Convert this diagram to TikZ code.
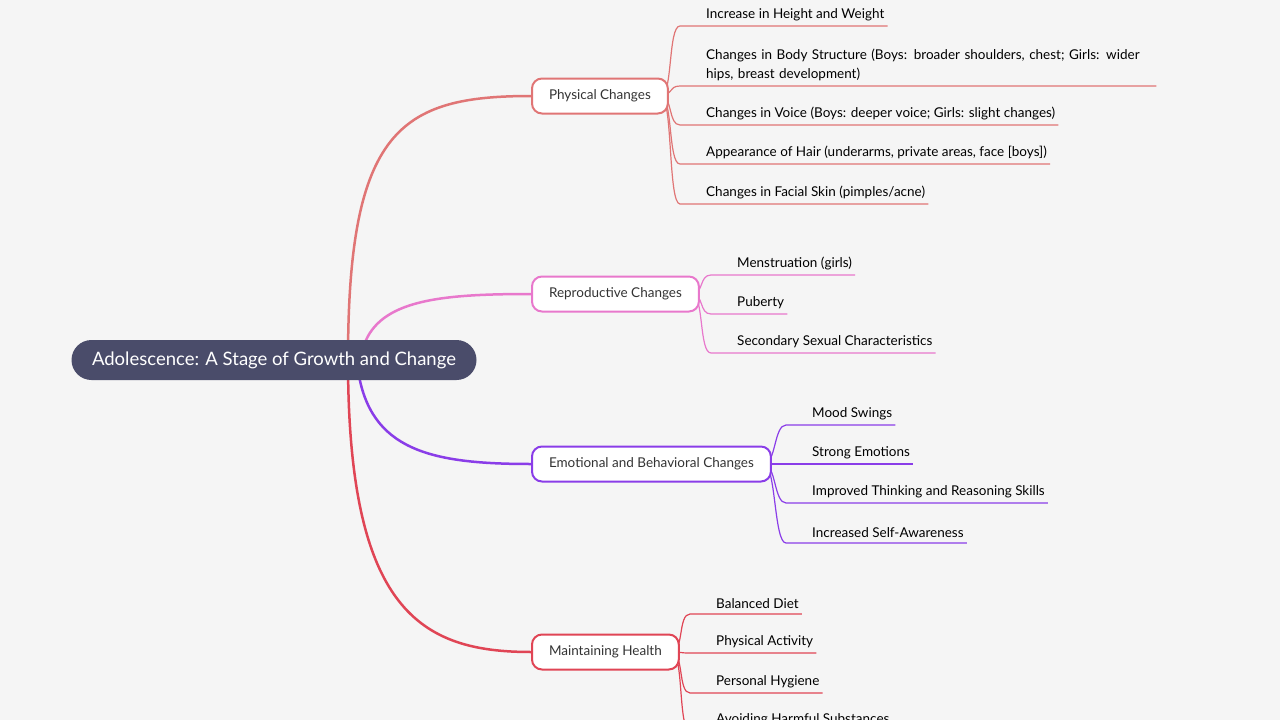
\documentclass[tikz,border=0pt]{standalone}
\usepackage{fontspec}
\setmainfont{Lato}
\usetikzlibrary{calc}
\pgfdeclarelayer{canvas}
\pgfdeclarelayer{links}
\pgfsetlayers{canvas,links,main}
\definecolor{bgc}{HTML}{F5F5F5}
\definecolor{rootc}{HTML}{4A4C6A}
\definecolor{physc}{HTML}{E07575}
\definecolor{reproc}{HTML}{E878CC}
\definecolor{emoc}{HTML}{8A3DE8}
\definecolor{healthc}{HTML}{E04555}
\definecolor{txtc}{HTML}{333333}
\tikzset{
  rootnode/.style={fill=rootc, text=white, rounded corners=20pt, minimum width=405pt,
    minimum height=40pt, font=\fontsize{18.5}{22}\selectfont},
  branchnode/.style={draw=#1, line width=2pt, fill=white, rounded corners=10pt,
    text=txtc, inner xsep=17pt, minimum height=35pt, font=\fontsize{13.5}{17}\selectfont},
  leafnode/.style={anchor=south west, inner xsep=0pt, inner ysep=5pt, text=black,
    font=\fontsize{13.5}{19}\selectfont, align=left},
  mainlink/.style={draw=#1, line width=2.5pt},
  leaflink/.style={draw=#1, line width=1.2pt}
}
\newcommand{\leaflinks}[3]{% branch, colour, leaves
  \foreach \l in {#3}
    \draw[leaflink=#2] ($(#1.east)+(-8,0)$) .. controls +(12,0) and +(-12,0) .. ($(\l.south west)+(-26,0)$) -- ($(\l.south east)+(3,0)$);}
\begin{document}
\begin{tikzpicture}[x=1pt, y=-1pt]
    % canvas
    \begin{pgfonlayer}{canvas}
      \fill[bgc] (0,0) rectangle (1280,720);
    \end{pgfonlayer}
    \useasboundingbox (0,0) rectangle (1280,720);

    % root and main branches
    \node[rootnode] (root) at (274,360) {Adolescence: A Stage of Growth and Change};
    \node[branchnode=physc, anchor=west] (phys) at (531,96) {Physical Changes};
    \node[branchnode=reproc, anchor=west] (repro) at (531,294) {Reproductive Changes};
    \node[branchnode=emoc, anchor=west] (emo) at (531,464) {Emotional and Behavioral Changes};
    \node[branchnode=healthc, anchor=west] (health) at (531,652) {Maintaining Health};

    % physical
    \node[leafnode] (p1) at (706,26) {Increase in Height and Weight};
    \node[leafnode, text width=447pt] (p2) at (706,86) {Changes in Body Structure (Boys: broader shoulders, chest; Girls: wider\\hips, breast development)};
    \node[leafnode] (p3) at (706,125) {Changes in Voice (Boys: deeper voice; Girls: slight changes)};
    \node[leafnode] (p4) at (706,164) {Appearance of Hair (underarms, private areas, face [boys])};
    \node[leafnode] (p5) at (706,204) {Changes in Facial Skin (pimples/acne)};

    % reproductive
    \node[leafnode] (r1) at (737,275) {Menstruation (girls)};
    \node[leafnode] (r2) at (737,314) {Puberty};
    \node[leafnode] (r3) at (737,353) {Secondary Sexual Characteristics};

    % emotional
    \node[leafnode] (e1) at (812,425) {Mood Swings};
    \node[leafnode] (e2) at (812,464) {Strong Emotions};
    \node[leafnode] (e3) at (812,503) {Improved Thinking and Reasoning Skills};
    \node[leafnode] (e4) at (812,543) {Increased Self-Awareness};

    % health
    \node[leafnode] (h1) at (716,614) {Balanced Diet};
    \node[leafnode] (h2) at (716,653) {Physical Activity};
    \node[leafnode] (h3) at (716,693) {Personal Hygiene};
    \node[leafnode] (h4) at (716,731) {Avoiding Harmful Substances};

    \begin{pgfonlayer}{links}
      \draw[mainlink=physc] (348,360) .. controls (348,130) and (400,96) .. (phys.west);
      \draw[mainlink=reproc] (364,345) .. controls (380,300) and (440,294) .. (repro.west);
      \draw[mainlink=emoc] (358,370) .. controls (370,450) and (430,464) .. (emo.west);
      \draw[mainlink=healthc] (348,360) .. controls (348,610) and (420,652) .. (health.west);
      \leaflinks{phys}{physc}{p1,p2,p3,p4,p5}
      \leaflinks{repro}{reproc}{r1,r2,r3}
      \leaflinks{emo}{emoc}{e1,e2,e3,e4}
      \leaflinks{health}{healthc}{h1,h2,h3,h4}
    \end{pgfonlayer}
\end{tikzpicture}
\end{document}
